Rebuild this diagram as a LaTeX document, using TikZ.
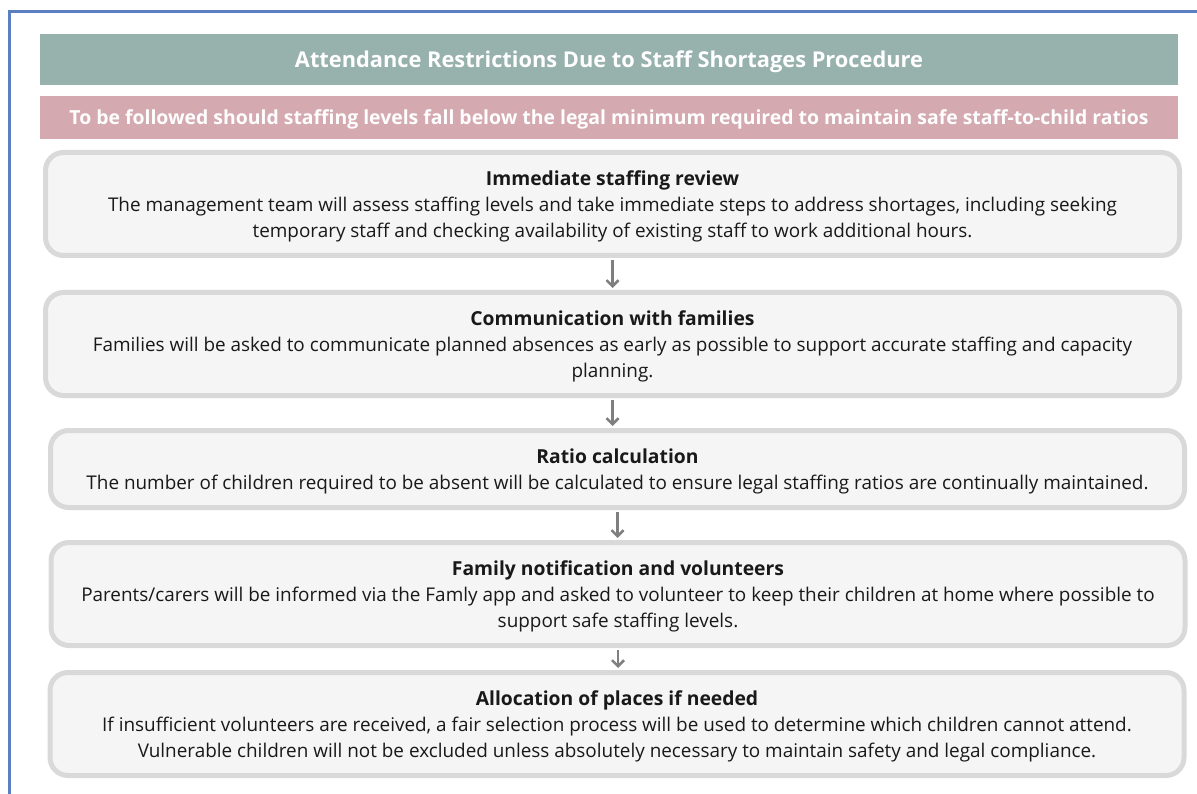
\documentclass[tikz,border=0pt]{standalone}
\usepackage{fontspec}
\setmainfont{Open Sans}
\usetikzlibrary{arrows.meta,positioning}
\definecolor{hdrteal}{HTML}{97B1AC}
\definecolor{hdrpink}{HTML}{D4A9B0}
\definecolor{stepfill}{HTML}{F5F5F5}
\definecolor{stepline}{HTML}{D9D9D9}
\definecolor{frameblue}{HTML}{5B7FC0}
\definecolor{arrgray}{HTML}{7F7F7F}
\newcommand{\steptitle}[1]{{\bfseries\fontsize{19.3}{26}\selectfont #1}}

\begin{document}
\begin{tikzpicture}[x=1pt,y=-1pt,
    banner/.style={rectangle, minimum width=1138pt, inner sep=0pt, text depth=0pt, text=white, font=\bfseries},
    stepbox/.style={rectangle, draw=stepline, fill=stepfill, line width=5pt, rounded corners=18pt, minimum width=1134pt, minimum height=103pt, text depth=0pt, align=center, text=black!90, font=\fontsize{18.9}{26}\selectfont},
    arrow/.style={-{Straight Barb[length=6pt,width=12pt]}, line width=2.5pt, draw=arrgray, shorten >=2pt, shorten <=2pt}
]
    \useasboundingbox (0,0) rectangle (1197,794);
    \draw[frameblue, line width=3pt] (9,794) -- (9,12) -- (1197,12);

    \node[banner, fill=hdrteal, minimum height=51pt, font=\bfseries\fontsize{21.8}{24}\selectfont] (title) at (609,59.5) {Attendance Restrictions Due to Staff Shortages Procedure};
    \node[banner, fill=hdrpink, minimum height=43pt, font=\bfseries\fontsize{19.4}{22}\selectfont] (sub) at (609,117.5) {To be followed should staffing levels fall below the legal minimum required to maintain safe staff-to-child ratios};

    \node[stepbox] (review) at (612.5,204) {\steptitle{Immediate staffing review}\\The management team will assess staffing levels and take immediate steps to address shortages, including seeking\\temporary staff and checking availability of existing staff to work additional hours.};
    \node[stepbox] (comms) at (612.5,344) {\steptitle{Communication with families}\\Families will be asked to communicate planned absences as early as possible to support accurate staffing and capacity\\planning.};
    \node[stepbox, minimum height=77pt] (ratio) at (617.5,469) {\steptitle{Ratio calculation}\\The number of children required to be absent will be calculated to ensure legal staffing ratios are continually maintained.};
    \node[stepbox] (notify) at (618,594) {\steptitle{Family notification and volunteers}\\Parents/carers will be informed via the Famly app and asked to volunteer to keep their children at home where possible to\\support safe staffing levels.};
    \node[stepbox] (alloc) at (617,724) {\steptitle{Allocation of places if needed}\\If insufficient volunteers are received, a fair selection process will be used to determine which children cannot attend.\\Vulnerable children will not be excluded unless absolutely necessary to maintain safety and legal compliance.};

    \draw[arrow] (review.south) -- (review.south |- comms.north);
    \draw[arrow] (comms.south) -- (comms.south |- ratio.north);
    \draw[arrow] (ratio.south) -- (ratio.south |- notify.north);
    \draw[arrow] (notify.south) -- (notify.south |- alloc.north);
\end{tikzpicture}
\end{document}
